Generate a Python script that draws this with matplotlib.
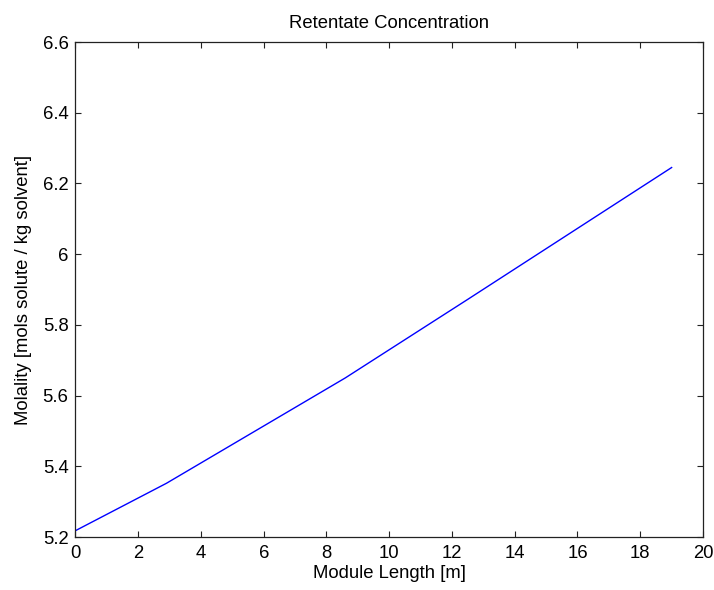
import matplotlib
matplotlib.use("Agg")
import matplotlib.pyplot as plt
import numpy as np

# module length [m] and retentate molality
length_m = [0.0, 2.9, 8.6, 12.5, 19.0]
molality = [5.218, 5.352, 5.650, 5.872, 6.245]

x_ticks = np.arange(0, 21, 2)
y_ticks = [5.2, 5.4, 5.6, 5.8, 6.0, 6.2, 6.4, 6.6]
y_tick_labels = ["5.2", "5.4", "5.6", "5.8", "6", "6.2", "6.4", "6.6"]

plt.rcParams['font.family'] = ['Liberation Sans', 'DejaVu Sans']
fs = 13.3

fig = plt.figure(figsize=(7.14, 5.90), dpi=100)
ax = fig.add_axes([0.1057, 0.0898, 0.9846 - 0.1057, 0.9288 - 0.0898])

ax.plot(length_m, molality, color=(0, 0, 1), linewidth=1.0)

ax.set_xlim(0, 20)
ax.set_ylim(5.2, 6.6)
ax.set_xticks(x_ticks)
ax.set_xticklabels([str(t) for t in x_ticks])
ax.set_yticks(y_ticks)
ax.set_yticklabels(y_tick_labels)

ax.tick_params(direction='in', length=4.5, width=0.8, labelsize=fs,
               top=True, right=True, color='#222222')
ax.tick_params(axis='x', pad=6)
ax.tick_params(axis='y', pad=5)
for s in ax.spines.values():
    s.set_linewidth(0.9)
    s.set_color('#222222')

ax.set_title("Retentate Concentration", fontsize=fs, pad=10)
ax.set_xlabel("Module Length [m]", fontsize=fs, labelpad=2)
ax.set_ylabel("Molality [mols solute / kg solvent]", fontsize=fs, labelpad=8)

fig.savefig("out.png", dpi=100)
